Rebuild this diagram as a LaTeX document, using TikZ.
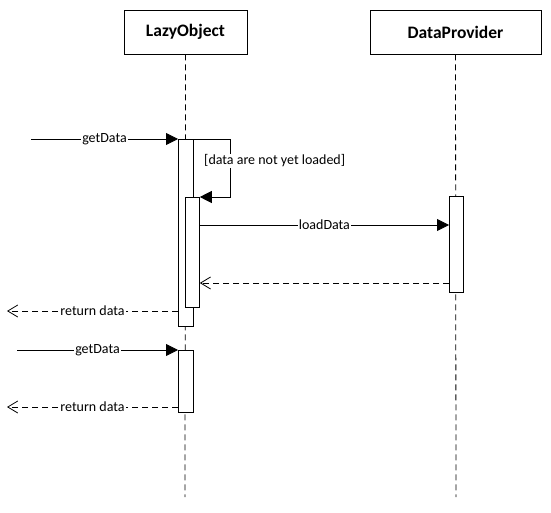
\documentclass[tikz,border=0pt]{standalone}
\usepackage{fontspec}
\setmainfont{Carlito}
\usepackage{tikz}
\usetikzlibrary{arrows.meta,positioning}

\tikzset{
  head/.style={draw, fill=white, line width=0.8pt, minimum height=44pt,
    font=\fontsize{17.5}{19}\selectfont\bfseries},
  bar/.style={draw, fill=white, line width=0.8pt, minimum width=15pt,
    inner sep=0pt, anchor=north west},
  life/.style={dashed, dash pattern=on 6pt off 4pt, line width=0.8pt},
  sync/.style={line width=0.8pt, -{Triangle[length=12pt,width=12pt]}},
  reply/.style={line width=0.8pt, dashed, dash pattern=on 6pt off 4pt,
    -{Straight Barb[length=10pt,width=12pt,line width=0.8pt]}},
  lbl/.style={fill=white, inner sep=1pt, font=\fontsize{14}{16}\selectfont}
}

\begin{document}
\begin{tikzpicture}[x=1pt, y=-1pt]

  \useasboundingbox (0,0) rectangle (551,513);

  % lifeline heads
  \node[head, minimum width=123pt] (lazy) at (185.5,32) {LazyObject};
  \node[head, minimum width=171pt] (prov) at (455.5,32) {DataProvider};

  \coordinate (lazyend) at (185,497);
  \coordinate (provend) at (456,497);
  \draw[life] (lazy.south) -- (lazyend);
  \draw[life] (prov.south) -- (provend);

  % activations
  \node[bar, minimum height=187pt] (act1) at (178,139) {};
  \node[bar, minimum width=14pt, minimum height=110pt] (act2) at (185,197) {};
  \node[bar, minimum width=14pt, minimum height=96pt] (pact) at (449,196) {};
  \node[bar, minimum height=62pt] (act3) at (178,350) {};

  % free ends
  \coordinate (in1) at (31,139);
  \coordinate (out1) at (7,311);
  \coordinate (in2) at (17,350);
  \coordinate (out2) at (7,407);

  % first call
  \draw[sync] (in1) -- node[lbl]{getData} (act1.north west);
  \draw[sync] (act1.north east) -- ++(37,0) |- (act2.north east);
  \node[lbl, anchor=west] (guard) at (203,161) {[data are not yet loaded]};

  \draw[sync] (act2.east |- 0,225) -- node[lbl]{loadData} (pact.west |- 0,225);
  \draw[reply] (pact.west |- 0,283) -- (act2.east |- 0,283);
  \draw[reply] (act1.west |- out1) -- node[lbl]{return data} (out1);

  % second call
  \draw[sync] (in2) -- node[lbl]{getData} (act3.north west);
  \draw[reply] (act3.west |- out2) -- node[lbl]{return data} (out2);

\end{tikzpicture}
\end{document}
